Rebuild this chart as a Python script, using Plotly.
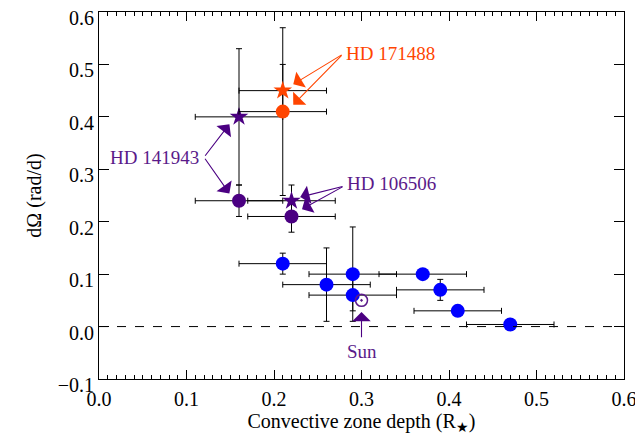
import plotly.graph_objects as go

# ---- data ----
# HD 171488 (orange)
hd171_x = [0.21, 0.21]
hd171_y = [0.45, 0.41]
hd171_xerr = [0.05, 0.05]
hd171_yerr = [0.05, 0.16]
hd171_sym = ["star", "circle"]

# HD 141943 (purple)
hd141_x = [0.16, 0.16]
hd141_y = [0.40, 0.24]
hd141_xerr = [0.05, 0.05]
hd141_yerr = [0.13, 0.03]
hd141_sym = ["star", "circle"]

# HD 106506 (purple)
hd106_x = [0.22, 0.22]
hd106_y = [0.24, 0.21]
hd106_xerr = [0.05, 0.05]
hd106_yerr = [0.03, 0.03]
hd106_sym = ["star", "circle"]

# other stars (blue)
blue_x = [0.21, 0.26, 0.29, 0.29, 0.37, 0.39, 0.41, 0.47]
blue_y = [0.12, 0.08, 0.10, 0.06, 0.10, 0.07, 0.03, 0.004]
blue_xerr = [0.05, 0.05, 0.05, 0.05, 0.05, 0.05, 0.05, 0.05]
blue_yerr = [0.02, 0.07, 0.09, 0.03, 0.005, 0.02, 0.003, 0.006]

# Sun
sun_x = [0.30]
sun_y = [0.05]

x_ticks = [0.0, 0.1, 0.2, 0.3, 0.4, 0.5, 0.6]
y_ticks = [-0.1, 0.0, 0.1, 0.2, 0.3, 0.4, 0.5, 0.6]

ORANGE = "#FF4500"
PURPLE = "#4B0082"
PURPLE_TXT = "#5A1A8A"
BLUE = "#0000FF"
FONT = "Liberation Serif, Times New Roman, serif"

fig = go.Figure()

def add_group(xs, ys, xe, ye, syms, color, sizes):
    fig.add_trace(go.Scatter(
        x=xs, y=ys, mode="markers",
        marker=dict(symbol=syms, color=color, size=sizes, opacity=1, line=dict(width=0)),
        error_x=dict(type="data", array=xe, color="black", thickness=1, width=3),
        error_y=dict(type="data", array=ye, color="black", thickness=1, width=3),
        showlegend=False, hoverinfo="skip"))

add_group(blue_x, blue_y, blue_xerr, blue_yerr, "circle", BLUE, 14)
add_group(hd106_x, hd106_y, hd106_xerr, hd106_yerr, hd106_sym, PURPLE, [14, 14])
add_group(hd141_x, hd141_y, hd141_xerr, hd141_yerr, hd141_sym, PURPLE, [14, 14])
add_group(hd171_x, hd171_y, hd171_xerr, hd171_yerr, hd171_sym, ORANGE, [14, 14])

fig.add_trace(go.Scatter(
    x=sun_x, y=sun_y, mode="markers",
    marker=dict(symbol="circle-open-dot", color=PURPLE_TXT, size=12, opacity=1,
                line=dict(width=1.5, color=PURPLE_TXT)),
    showlegend=False, hoverinfo="skip"))

# zero line
fig.add_shape(type="line", xref="paper", yref="y", x0=0, x1=1, y0=0, y1=0,
              line=dict(color="black", width=1, dash="dash"))

# labels
labels = [
    ("HD 171488", 0.280, 0.52, ORANGE),
    ("HD 141943", 0.0105, 0.323, PURPLE_TXT),
    ("HD 106506", 0.281, 0.272, PURPLE_TXT),
    ("Sun", 0.30, -0.047, PURPLE_TXT),
]
for t, x, y, c in labels:
    fig.add_annotation(x=x, y=y, text=t, showarrow=False,
                       xanchor="center" if t == "Sun" else "left", yanchor="middle",
                       font=dict(family=FONT, size=19, color=c))

arrows = [
    # (tail x, tail y, head x, head y, color)
    (0.279, 0.520, 0.222, 0.462, ORANGE),
    (0.279, 0.520, 0.222, 0.423, ORANGE),
    (0.120, 0.323, 0.149, 0.386, PURPLE),
    (0.120, 0.323, 0.149, 0.254, PURPLE),
    (0.280, 0.268, 0.230, 0.247, PURPLE),
    (0.280, 0.268, 0.232, 0.224, PURPLE),
    (0.300, -0.023, 0.300, 0.028, PURPLE),
]
for ax_, ay_, hx, hy, c in arrows:
    fig.add_annotation(x=hx, y=hy, ax=ax_, ay=ay_, axref="x", ayref="y",
                       xref="x", yref="y", text="", showarrow=True,
                       arrowhead=1, arrowsize=2.8, arrowwidth=1.1,
                       arrowcolor=c, standoff=0, startstandoff=0)

# page body adds an 8px margin, so the figure is sized/offset to compensate
fig.update_layout(
    width=635, height=434,
    margin=dict(l=91, r=19, t=4, b=63, autoexpand=False),
    paper_bgcolor="white", plot_bgcolor="white",
    font=dict(family=FONT, size=20, color="black"),
    xaxis=dict(
        range=[0, 0.6], tickvals=x_ticks, tickformat=".1f", automargin=False,
        ticklabeloverflow="allow", ticklabelstandoff=2,
        ticks="inside", ticklen=9, tickwidth=1, tickcolor="black",
        minor=dict(ticks="inside", ticklen=4, dtick=0.01, tickcolor="black", tickwidth=1),
        showline=True, linecolor="black", linewidth=1, mirror="ticks",
        showgrid=False, zeroline=False,
        title=dict(text="Convective zone depth (R<sub>★</sub>)", font=dict(family=FONT, size=20), standoff=2),
        tickfont=dict(family=FONT, size=20),
    ),
    yaxis=dict(
        range=[-0.1, 0.6], tickvals=y_ticks, tickformat=".1f", automargin=False,
        ticklabeloverflow="allow", ticklabelshift=6,
        ticks="inside", ticklen=10, tickwidth=1, tickcolor="black",
        showline=True, linecolor="black", linewidth=1, mirror="ticks",
        showgrid=False, zeroline=False,
        title=dict(text="dΩ (rad/d)", font=dict(family=FONT, size=20), standoff=10),
        tickfont=dict(family=FONT, size=20),
    ),
)

fig.write_html("out.html")
